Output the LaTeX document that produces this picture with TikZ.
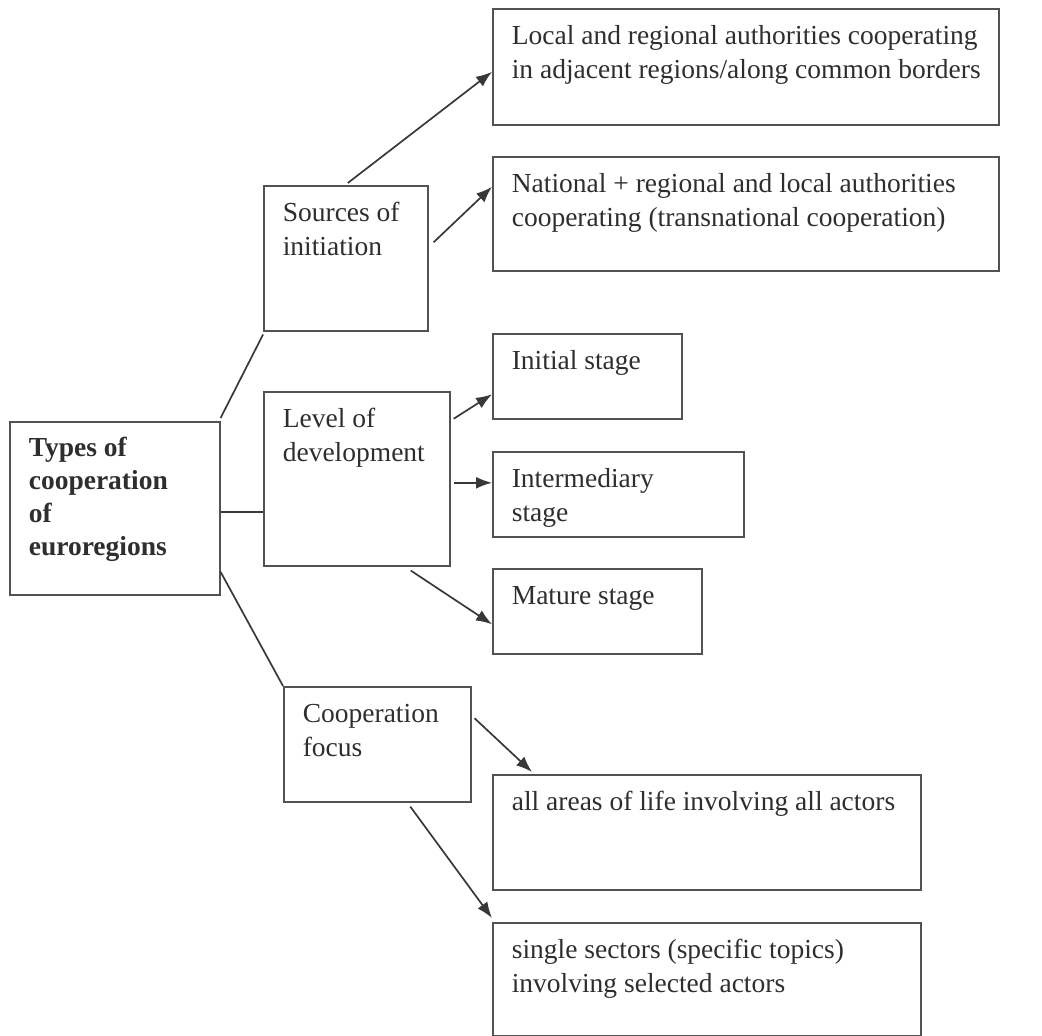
\documentclass[tikz,border=0pt]{standalone}
\usepackage{fontspec}
\setmainfont{Liberation Serif}
\usetikzlibrary{arrows.meta}

% text block placed in the top-left corner of a fixed-size box
\newcommand\celltext[3]{\parbox[c][#2][t]{#1}{\raggedright\leftskip=19pt\relax
  \vspace*{12pt}\strut #3\par}}

\begin{document}
\begin{tikzpicture}[x=1pt,y=-1pt,
  cell/.style={draw=black!68, line width=1.6pt, inner sep=0pt, anchor=north west,
    text=black!82, font=\fontsize{27.5pt}{34pt}\selectfont},
  link/.style={draw=black!78, line width=1.7pt},
  arr/.style={link, -{Latex[length=16pt,width=12pt]}}]

\useasboundingbox (0,0) rectangle (1042,1036);

% root
\node[cell, font=\fontsize{27.5pt}{33pt}\selectfont\bfseries] (root) at (9,421)
  {\celltext{210pt}{173pt}{Types of\\cooperation\\of\\euroregions}};

% second level
\node[cell] (src) at (263,185) {\celltext{164pt}{145pt}{Sources of\\initiation}};
\node[cell] (lev) at (263,391) {\celltext{186pt}{174pt}{Level of\\development}};
\node[cell] (foc) at (283,686) {\celltext{187pt}{115pt}{Cooperation\\focus}};

% leaves
\node[cell] (loc) at (492,8) {\celltext{506pt}{116pt}{Local and regional authorities cooperating\\in adjacent regions/along common borders}};
\node[cell] (nat) at (492,156) {\celltext{506pt}{114pt}{National + regional and local authorities\\cooperating (transnational cooperation)}};
\node[cell] (ini) at (492,333) {\celltext{189pt}{85pt}{Initial stage}};
\node[cell] (mid) at (492,451) {\celltext{251pt}{85pt}{Intermediary\\stage}};
\node[cell] (mat) at (492,568) {\celltext{209pt}{85pt}{Mature stage}};
\node[cell] (all) at (492,774) {\celltext{428pt}{115pt}{all areas of life involving all actors}};
\node[cell] (sgl) at (492,922) {\celltext{428pt}{113pt}{single sectors (specific topics)\\involving selected actors}};

% plain links from the root
\draw[link] ([yshift=3pt]root.north east) -- ([yshift=-3pt]src.south west);
\draw[link] ([yshift=-4pt]root.east) -- ([yshift=-4pt]root.east -| lev.west);
\draw[link] (root.-31) -- (foc.north west);

% arrows to the leaves
\draw[arr] ([xshift=2pt,yshift=2pt]src.north) -- ([yshift=-5pt]loc.west);
\draw[arr] ([xshift=5pt,yshift=16pt]src.east) -- ([yshift=27pt]nat.west);
\draw[arr] ([xshift=3pt,yshift=60pt]lev.east) -- ([yshift=-18pt]ini.west);
\draw[arr] ([xshift=3pt,yshift=-4pt]lev.east) -- ([yshift=-4pt]lev.east -| mid.west);
\draw[arr] ([xshift=54pt,yshift=-4pt]lev.south) -- ([yshift=-13pt]mat.west);
\draw[arr] ([xshift=3pt,yshift=26pt]foc.east) -- ([xshift=40pt,yshift=2pt]all.north west);
\draw[arr] ([xshift=33pt,yshift=-4pt]foc.south) -- ([yshift=4pt]sgl.north west);
\end{tikzpicture}
\end{document}
